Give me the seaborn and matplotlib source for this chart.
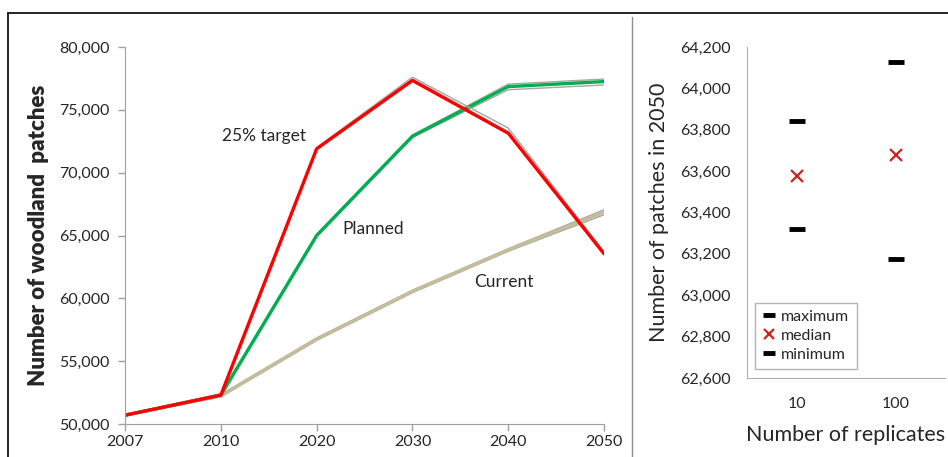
import matplotlib.pyplot as plt
import pandas as pd
import seaborn as sns
from matplotlib.lines import Line2D

# left panel: woodland patches per scenario (mean line with min/max replicate lines)
years = ['2007', '2010', '2020', '2030', '2040', '2050']

target_mean = [50700, 52300, 71900, 77350, 73150, 63550]
target_max = [50750, 52400, 72000, 77600, 73550, 63700]
target_min = [50650, 52200, 71850, 77250, 73050, 63450]

planned_mean = [50700, 52300, 65000, 72900, 76850, 77250]
planned_max = [50750, 52400, 65100, 73000, 77050, 77450]
planned_min = [50650, 52200, 64900, 72800, 76600, 76980]

current_mean = [50700, 52250, 56750, 60550, 63850, 66850]
current_max = [50750, 52350, 56850, 60650, 63950, 67050]
current_min = [50650, 52150, 56650, 60450, 63750, 66650]

# right panel: patches in 2050 by number of replicates
replicates = ['10', '100']
rep_max = [63840, 64125]
rep_median = [63575, 63680]
rep_min = [63320, 63175]

sns.set_style('white')
plt.rcParams['font.family'] = ['Lato', 'DejaVu Sans']

fig = plt.figure(figsize=(9.48, 4.57), dpi=100)
ax = fig.add_axes([0.1319, 0.0722, 0.5053, 0.8249])
ax2 = fig.add_axes([0.788, 0.1729, 0.2089, 0.7243])

pos = list(range(len(years)))
df = pd.DataFrame({'pos': pos,
                   'target': target_mean, 'target_max': target_max, 'target_min': target_min,
                   'planned': planned_mean, 'planned_max': planned_max, 'planned_min': planned_min,
                   'current': current_mean, 'current_max': current_max, 'current_min': current_min})

grey = '#A6A6A6'
for name, col in [('current', '#C4BD97'), ('planned', '#00B050'), ('target', '#FF0000')]:
    sns.lineplot(x='pos', y=name + '_max', data=df, ax=ax, color=grey, linewidth=1.0)
    sns.lineplot(x='pos', y=name + '_min', data=df, ax=ax, color=grey, linewidth=1.0)
    sns.lineplot(x='pos', y=name, data=df, ax=ax, color=col, linewidth=2.4)

ax.set_xlim(0, len(years) - 1)
ax.set_ylim(50000, 80000)
ax.set_yticks(range(50000, 80001, 5000))
ax.set_yticklabels(['{:,}'.format(v) for v in range(50000, 80001, 5000)], fontsize=11.5)
ax.set_xticks(pos)
ax.set_xticklabels(years, fontsize=11.5)
ax.set_xlabel('')
ax.set_ylabel('Number of woodland  patches', fontsize=16, fontweight='heavy', labelpad=7)
sns.despine(ax=ax)
for s in ['left', 'bottom']:
    ax.spines[s].set_color('#A0A0A0')
ax.tick_params(axis='both', direction='out', length=5, color='#A0A0A0', width=1, left=True, bottom=True)
ax.tick_params(axis='y', pad=6)
ax.tick_params(axis='x', pad=3)

ax.text(1.01, 72900, '25% target', fontsize=12.5, va='center')
ax.text(2.27, 65500, 'Planned', fontsize=12.5, va='center')
ax.text(3.64, 61300, 'Current', fontsize=12.5, va='center')

# right panel
ax2.plot(replicates, rep_max, linestyle='none', marker='_', markersize=12, markeredgewidth=3.5,
         color='black', label='maximum')
ax2.plot(replicates, rep_median, linestyle='none', marker='x', markersize=9, markeredgewidth=1.6,
         color='#D42020', label='median')
ax2.plot(replicates, rep_min, linestyle='none', marker='_', markersize=12, markeredgewidth=3.5,
         color='black', label='minimum')
ax2.set_xlim(-0.5, 1.5)
ax2.set_ylim(62600, 64200)
ax2.set_yticks(range(62600, 64201, 200))
ax2.set_yticklabels(['{:,}'.format(v) for v in range(62600, 64201, 200)], fontsize=11.5)
ax2.tick_params(axis='both', length=0, labelsize=11.5, pad=14)
ax2.tick_params(axis='y', pad=12)
ax2.set_xlabel('Number of replicates', fontsize=15.5, labelpad=10)
ax2.set_ylabel('Number of patches in 2050', fontsize=15.5, labelpad=8)
sns.despine(ax=ax2)
for s in ['left', 'bottom']:
    ax2.spines[s].set_color('#B0B0B0')
leg = ax2.legend(loc='lower left', bbox_to_anchor=(0.04, 0.027), borderaxespad=0, fontsize=11.5,
                 fancybox=False, frameon=True, handlelength=0.9, handletextpad=0.3,
                 labelspacing=0.3, markerscale=0.75, borderpad=0.45)
leg.get_frame().set_edgecolor('#A0A0A0')

# panel frames
fig.add_artist(Line2D([8 / 948, 1], [1 - 13 / 457] * 2, color='black', linewidth=1.2))
fig.add_artist(Line2D([8 / 948] * 2, [0, 1 - 13 / 457], color='black', linewidth=1.2))
fig.add_artist(Line2D([632 / 948] * 2, [0, 1 - 17 / 457], color='#909090', linewidth=1.0))

fig.savefig('out.png', dpi=100)
